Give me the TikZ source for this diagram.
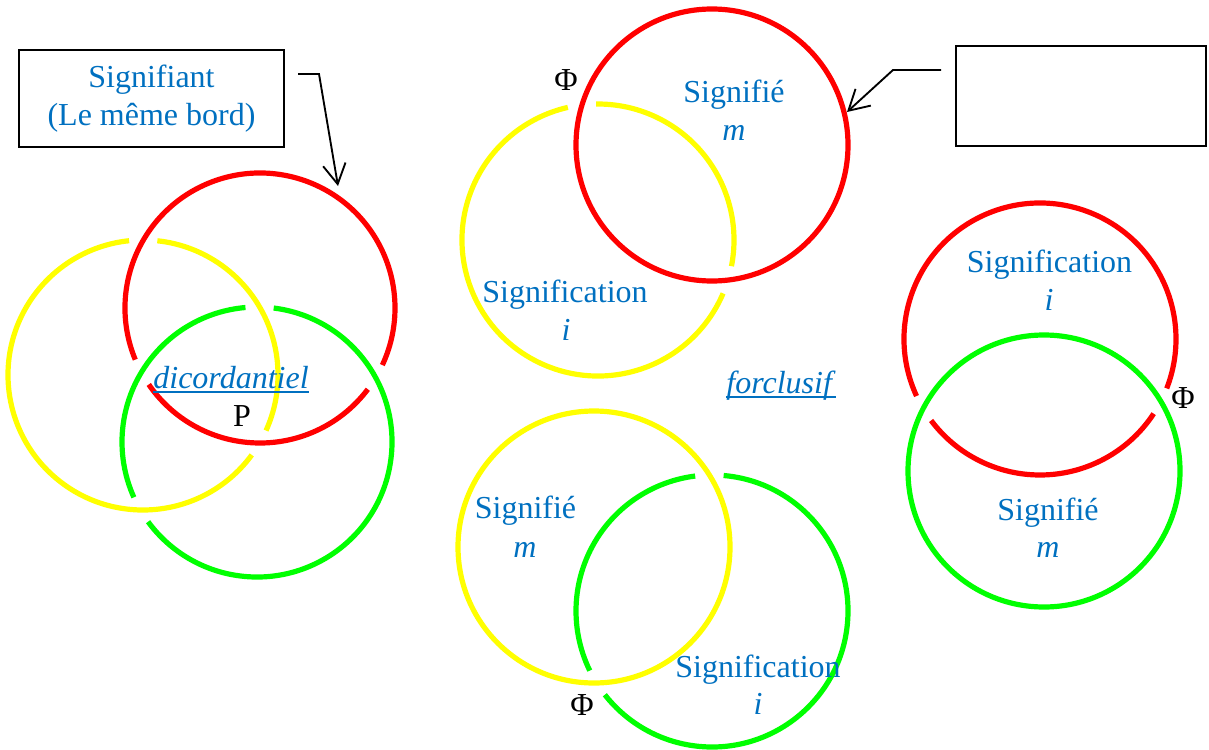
\documentclass[tikz,border=0pt]{standalone}
\usepackage{fontspec}
\setmainfont{Liberation Serif}
\usetikzlibrary{arrows}
\usetikzlibrary{arrows.meta}

\definecolor{labelblue}{RGB}{0,112,192}
\definecolor{ringred}{RGB}{255,0,0}
\definecolor{ringyellow}{RGB}{255,255,0}
\definecolor{ringgreen}{RGB}{0,255,0}

% underlined word with a thicker rule
\newcommand{\lineunder}[1]{\setbox0\hbox{#1}\rlap{\rule[-3.4pt]{\wd0}{1.2pt}}\box0}

\tikzset{
  ring/.style={line width=3.9pt},
  lbl/.style={text=labelblue, font=\fontsize{24}{28.5}\selectfont, inner sep=0pt, anchor=base},
  sym/.style={text=black, font=\fontsize{24}{28.5}\selectfont, inner sep=0pt, anchor=base},
  callout/.style={draw, line width=1.5pt, inner sep=0pt},
  pointer/.style={line width=1.4pt, -{Straight Barb[length=15pt,width=17pt]}},
}

\begin{document}
\begin{tikzpicture}[x=0.75pt,y=0.75pt,yscale=-1,xscale=1]
\useasboundingbox (0,0) rectangle (1209,749);

%Left knot: each ring is cut where the next one passes over it
%Red ring, under green
\draw [ringred, ring] (260,308) ++(37:135) arc[start angle=37, end angle=145.5, radius=135];
\draw [ringred, ring] (260,308) ++(157.5:135) arc[start angle=157.5, end angle=385, radius=135];
%Yellow ring, under red
\draw [ringyellow, ring] (143,375) ++(36.3:135) arc[start angle=36.3, end angle=264.1, radius=135];
\draw [ringyellow, ring] (143,375) ++(276.1:135) arc[start angle=276.1, end angle=384.3, radius=135];
%Green ring, under yellow
\draw [ringgreen, ring] (257,442) ++(155.8:135) arc[start angle=155.8, end angle=265.1, radius=135];
\draw [ringgreen, ring] (257,442) ++(277.1:135) arc[start angle=277.1, end angle=503.8, radius=135];

\node [lbl] (dicord) at (231,388) {\lineunder{\textit{dicordantiel}}};
\node [sym] (pointP) at (242,426) {P};

%Box for the left knot
\node [callout, minimum width=198.75pt, minimum height=72.75pt, align=center, text=labelblue, font=\fontsize{24}{28.5}\selectfont] (signifiant) at (151.5,98.5) {Signifiant\\(Le même bord)};
\coordinate (sigStart) at (298,74);
\coordinate (sigBend) at (319,74);
\coordinate (sigTip) at (338,186);
\draw [pointer] (sigStart) -- (sigBend) -- (sigTip);

%Top pair: red over yellow
\draw [ringred, ring] (712,145) circle[radius=136];
\draw [ringyellow, ring] (598,240) ++(23.1:136) arc[start angle=23.1, end angle=257.2, radius=136];
\draw [ringyellow, ring] (598,240) ++(269.2:136) arc[start angle=269.2, end angle=371.1, radius=136];

\node [sym] (phiTop) at (566,90) {Φ};
\node [lbl] (signifieTop) at (734,103) {Signifié};
\node [lbl] (mTop) at (734,140) {\textit{m}};
\node [lbl] (significationTop) at (565,302) {Signification};
\node [lbl] (iTop) at (566,340) {\textit{i}};

%Empty box
\node [callout, minimum width=187.5pt, minimum height=75pt] (blank) at (1081,96) {};
\coordinate (blankStart) at (941,70);
\coordinate (blankBend) at (893,70);
\coordinate (blankTip) at (847,112);
\draw [pointer] (blankStart) -- (blankBend) -- (blankTip);

\node [lbl] (forclusif) at (781,393) {\lineunder{\textit{forclusif}}};

%Bottom pair: yellow over green
\draw [ringyellow, ring] (594,547) circle[radius=136];
\draw [ringgreen, ring] (712,611) ++(154:136) arc[start angle=154, end angle=262.9, radius=136];
\draw [ringgreen, ring] (712,611) ++(274.9:136) arc[start angle=274.9, end angle=502, radius=136];

\node [lbl] (signifieBot) at (525.5,518) {Signifié};
\node [lbl] (mBot) at (525,557) {\textit{m}};
\node [lbl] (significationBot) at (758,677) {Signification};
\node [lbl] (iBot) at (758,714) {\textit{i}};
\node [sym] (phiBot) at (582,715) {Φ};

%Right pair: green over red
\draw [ringgreen, ring] (1044,471) circle[radius=136];
\draw [ringred, ring] (1040,339) ++(33.3:136) arc[start angle=33.3, end angle=143.2, radius=136];
\draw [ringred, ring] (1040,339) ++(155.2:136) arc[start angle=155.2, end angle=381.3, radius=136];

\node [lbl] (significationRight) at (1049.5,272) {Signification};
\node [lbl] (iRight) at (1049,310) {\textit{i}};
\node [lbl] (signifieRight) at (1048,520) {Signifié};
\node [lbl] (mRight) at (1048,557) {\textit{m}};
\node [sym] (phiRight) at (1183,408) {Φ};

\end{tikzpicture}
\end{document}
